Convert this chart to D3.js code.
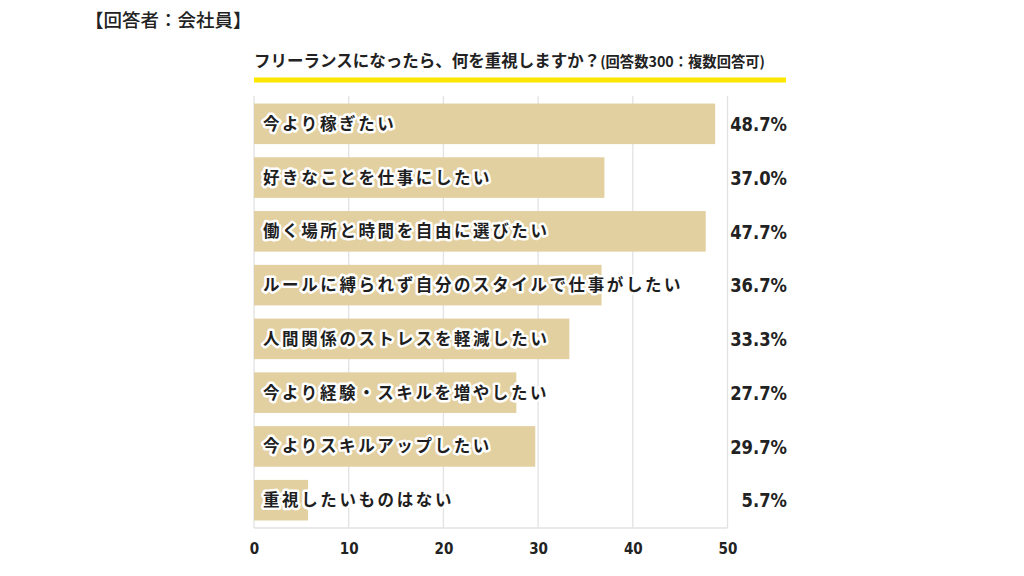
<!DOCTYPE html>
<html><head><meta charset="utf-8">
<script src="https://cdn.jsdelivr.net/npm/d3@7"></script>
<style>
body{margin:0;background:#fff;}
</style></head>
<body><svg id="c" width="1024" height="576"></svg>
<script>
const categories = ["今より稼ぎたい","好きなことを仕事にしたい","働く場所と時間を自由に選びたい","ルールに縛られず自分のスタイルで仕事がしたい","人間関係のストレスを軽減したい","今より経験・スキルを増やしたい","今よりスキルアップしたい","重視したいものはない"];
const values = [48.7,37.0,47.7,36.7,33.3,27.7,29.7,5.7];
const ticks = [0,10,20,30,40,50];
const respondent = "【回答者：会社員】";
const title = "フリーランスになったら、何を重視しますか？";
const subtitle = "(回答数300：複数回答可)";

const svg = d3.select("#c");
const jp = "'Noto Sans CJK JP','Noto Sans',sans-serif";
const num = "'DejaVu Sans',sans-serif";
const x = d3.scaleLinear().domain([0,50]).range([254,727.5]);
const y = d3.scaleBand().domain(categories).range([96,528]).paddingInner(0.245).paddingOuter(0.14);

svg.append("text").attr("x",85).attr("y",27).attr("font-family",jp).attr("font-size",18.5).attr("font-weight",500).attr("fill","#222").text(respondent);

const t = svg.append("text").attr("x",254).attr("y",67).attr("font-family",jp).attr("font-weight",700).attr("fill","#222");
t.append("tspan").attr("font-size",16.5).text(title);
t.append("tspan").attr("font-size",14.3).text(subtitle);
svg.append("rect").attr("x",254).attr("y",77.5).attr("width",532).attr("height",5).attr("fill","#ffe600");

// grid
svg.append("g").selectAll("line").data(ticks).join("line")
  .attr("x1",d=>x(d)).attr("x2",d=>x(d)).attr("y1",96).attr("y2",528)
  .attr("stroke","#e2e2e2").attr("stroke-width",1.3);
svg.append("line").attr("x1",x(0)).attr("x2",x(50)).attr("y1",528).attr("y2",528).attr("stroke","#e2e2e2").attr("stroke-width",1.3);

// bars
svg.append("g").selectAll("rect").data(categories).join("rect")
  .attr("x",x(0)).attr("y",d=>y(d)).attr("height",y.bandwidth())
  .attr("width",(d,i)=>x(values[i])-x(0)).attr("fill","#e3d0a1");

// labels with halo
const lg = svg.append("g").attr("font-family",jp).attr("font-size",16.5).attr("font-weight",700).attr("letter-spacing",2.6);
lg.selectAll("text.h").data(categories).join("text").attr("class","h")
  .attr("x",263).attr("y",d=>y(d)+y.bandwidth()/2).attr("dy","0.36em")
  .attr("fill","#fff").attr("stroke","#fff").attr("stroke-width",5).attr("stroke-linejoin","round").text(d=>d);
lg.selectAll("text.f").data(categories).join("text").attr("class","f")
  .attr("x",263).attr("y",d=>y(d)+y.bandwidth()/2).attr("dy","0.36em")
  .attr("fill","#1e1e1e").text(d=>d);

// values (horizontally condensed)
svg.append("g").selectAll("text").data(categories).join("text")
  .attr("transform",d=>`translate(787,${y(d)+y.bandwidth()/2}) scale(0.82,1)`)
  .attr("dy","0.36em")
  .attr("text-anchor","end").attr("font-family",num).attr("font-weight",700).attr("font-size",20).attr("fill","#222")
  .text((d,i)=>values[i].toFixed(1)+"%");

// axis
const ax = svg.append("g").attr("transform","translate(0,528)").call(d3.axisBottom(x).tickValues(ticks).tickSize(0).tickPadding(0));
ax.select(".domain").remove();
ax.selectAll("text").attr("y",0).attr("dy",0).attr("transform","translate(0,26) scale(0.82,1)")
  .attr("font-family",num).attr("font-weight",700).attr("font-size",16.5).attr("fill","#222");
</script></body></html>
